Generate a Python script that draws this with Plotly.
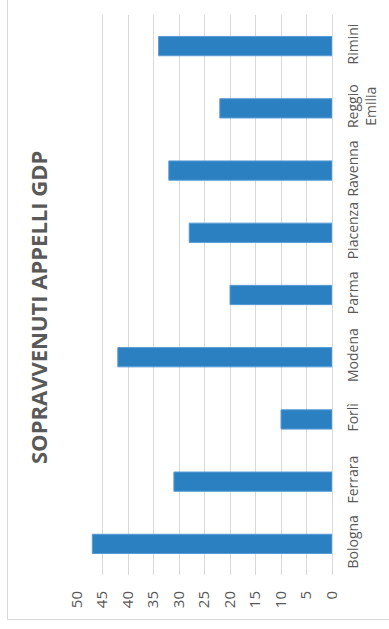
import plotly.graph_objects as go

# Sopravvenuti appelli giudice di pace, per circondario
categories = ["Bologna", "Ferrara", "Forlì", "Modena", "Parma",
              "Piacenza", "Ravenna", "Reggio<br>Emilia", "Rimini"]
values = [47, 31, 10, 42, 20, 28, 32, 22, 34]
value_ticks = [0, 5, 10, 15, 20, 25, 30, 35, 40, 45, 50]

W, H = 389, 629
L, R, T, B = 77, 57, 15, 54
pw, ph = W - L - R, H - T - B

def px_x(x):
    return (x - L) / pw

def px_y(y):
    return (H - B - y) / ph

text_color = "#595959"
grid_color = "#d9d9d9"

fig = go.Figure(go.Bar(
    x=values,
    y=categories,
    orientation="h",
    marker=dict(color="#2a80c0", line=dict(color="#5b9bd5", width=1)),
    hoverinfo="x+y",
))

fig.update_layout(
    width=W, height=H,
    margin=dict(l=L, r=R, t=T, b=B, pad=0, autoexpand=False),
    paper_bgcolor="white",
    plot_bgcolor="white",
    bargap=0.69,
    showlegend=False,
    font=dict(family="Open Sans", color=text_color),
    xaxis=dict(
        range=[50, 0],
        tickvals=value_ticks,
        ticktext=[str(v) for v in value_ticks],
        tickangle=-90,
        tickfont=dict(size=15, color=text_color),
        showgrid=True, gridcolor=grid_color, gridwidth=1,
        zeroline=True, zerolinecolor=grid_color, zerolinewidth=1,
        showline=False, automargin=False,
        ticks="", ticklabelstandoff=12,
        fixedrange=True,
    ),
    yaxis=dict(
        side="right",
        type="category",
        tickangle=-90,
        tickfont=dict(size=14, color=text_color),
        showgrid=False, zeroline=False, showline=False, automargin=False,
        ticks="", ticklabelstandoff=11,
        fixedrange=True,
    ),
    annotations=[dict(
        text="<b>SOPRAVVENUTI APPELLI GDP</b>",
        xref="paper", yref="paper",
        x=px_x(38), y=px_y(308),
        xanchor="center", yanchor="middle",
        textangle=-90, showarrow=False,
        font=dict(size=22, color=text_color, family="Open Sans"),
    )],
    shapes=[dict(
        type="rect", xref="paper", yref="paper",
        x0=px_x(7.5), x1=px_x(400), y0=px_y(619.5), y1=px_y(-10),
        line=dict(color=grid_color, width=1), fillcolor="rgba(0,0,0,0)",
        layer="below",
    )],
)

fig.write_html("out.html")
